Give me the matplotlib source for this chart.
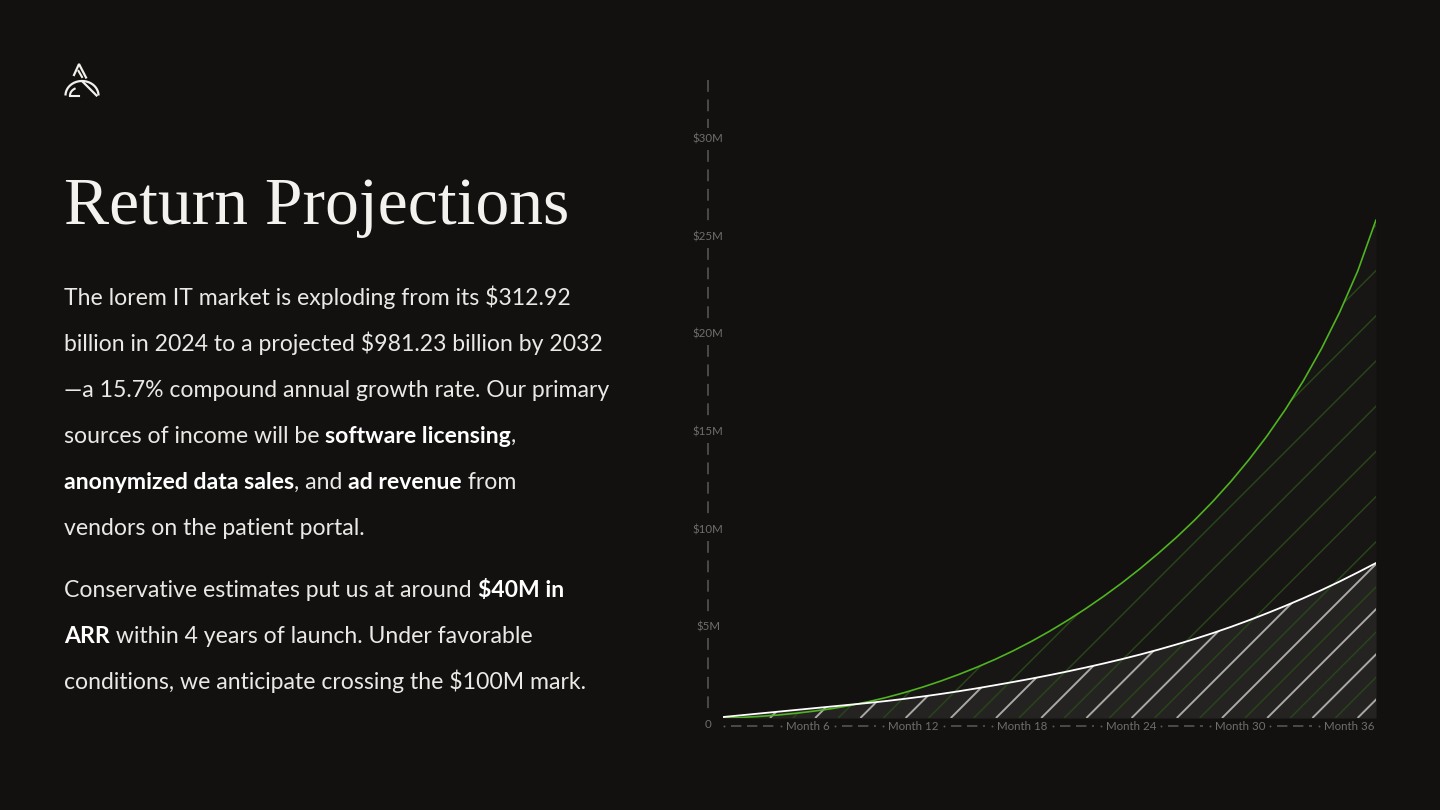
import matplotlib
matplotlib.use('Agg')
import matplotlib.pyplot as plt
import matplotlib.transforms as mtransforms
from matplotlib.collections import LineCollection
import numpy as np

plt.rcParams['lines.scale_dashes'] = False

W, H, DPI = 1440, 810, 100
BG = '#131110'

# ---------------- data ----------------
months = list(range(0, 37))
conservative = [0.05, 0.14, 0.23, 0.32, 0.41, 0.50, 0.59, 0.68, 0.77, 0.87,
                0.98, 1.10, 1.23, 1.37, 1.52, 1.68, 1.845, 2.015, 2.195, 2.385,
                2.585, 2.795, 3.015, 3.25, 3.50, 3.765, 4.045, 4.345, 4.665, 5.005,
                5.365, 5.74, 6.135, 6.55, 6.99, 7.455, 7.935]
favorable = [0.00, 0.03, 0.08, 0.15, 0.24, 0.35, 0.48, 0.64, 0.83, 1.05,
             1.30, 1.58, 1.89, 2.23, 2.60, 3.00, 3.44, 3.92, 4.44, 5.00,
             5.60, 6.24, 6.92, 7.65, 8.43, 9.25, 10.13, 11.08, 12.11, 13.23,
             14.45, 15.79, 17.27, 18.92, 20.78, 22.90, 25.50]
y_ticks = [0, 5, 10, 15, 20, 25, 30]
y_tick_labels = ['0', '$5M', '$10M', '$15M', '$20M', '$25M', '$30M']
x_ticks = [6, 12, 18, 24, 30, 36]
x_tick_labels = ['Month 6', 'Month 12', 'Month 18', 'Month 24', 'Month 30', 'Month 36']

title_text = 'Return Projections'
body_lines = [
    [('The lorem IT market is exploding from its $312.92', False)],
    [('billion in 2024 to a projected $981.23 billion by 2032', False)],
    [('\u2014a 15.7% compound annual growth rate. Our primary', False)],
    [('sources of income will be ', False), ('software licensing', True), (',', False)],
    [('anonymized data sales', True), (', and ', False), ('ad revenue', True), (' from', False)],
    [('vendors on the patient portal.', False)],
    [('Conservative estimates put us at around ', False), ('$40M in', True)],
    [('ARR', True), (' within 4 years of launch. Under favorable', False)],
    [('conditions, we anticipate crossing the $100M mark.', False)],
]
body_baselines = [305, 351, 397, 443, 489, 535, 597, 643, 689]

# ---------------- figure ----------------
fig = plt.figure(figsize=(W / DPI, H / DPI), dpi=DPI, facecolor=BG)
renderer = fig.canvas.get_renderer()

# overlay axes in pixel coordinates (top-left origin) for decoration
ov = fig.add_axes([0, 0, 1, 1])
ov.set_xlim(0, W)
ov.set_ylim(H, 0)
ov.axis('off')
ov.set_zorder(0)

# chart axes
X0, X1, Y0, YTOP = 723, 1376, 718, 80
PXM = (718 - 132) / 30.0
ax = fig.add_axes([X0 / W, (H - Y0) / H, (X1 - X0) / W, (Y0 - YTOP) / H])
ax.set_zorder(1)
ax.patch.set_alpha(0)
ax.axis('off')
ax.set_xlim(0, 36)
ax.set_ylim(0, (Y0 - YTOP) / PXM)
ax.autoscale(False)

gfill = ax.fill_between(months, favorable, 0, color='#171614', lw=0, zorder=1)
wfill = ax.fill_between(months, conservative, 0, color='#242321', lw=0, zorder=2)


def hatch(x_start, spacing, color, lw, clip, z):
    segs = []
    for k in range(-20, 40):
        xb = x_start + spacing * k
        segs.append([(xb, H - Y0), (xb + 800, H - Y0 + 800)])
    lc = LineCollection(segs, colors=color, linewidths=lw,
                        transform=mtransforms.IdentityTransform(), zorder=z)
    ax.add_collection(lc, autolim=False)
    lc.set_clip_path(clip.get_paths()[0], ax.transData)
    return lc


hatch(770 + 23, 45.2, '#284419', 1.1, gfill, 3)
hatch(770, 45.2, '#a9a8a6', 1.4, wfill, 4)

ax.plot(months, favorable, color='#4fb41f', lw=1.2, zorder=5, solid_capstyle='round')
ax.plot(months, conservative, color='#ffffff', lw=1.3, zorder=6, solid_capstyle='round')

# ---------------- axes decoration ----------------
AXC = '#5c5a58'
LBC = '#706e6c'
TICK_FS = 8.3

ylab_px = []
for v, lab in zip(y_ticks, y_tick_labels):
    ypx = H - ax.transData.transform((0, v))[1] + 7
    ylab_px.append(ypx)
    ov.text(708, ypx, lab, ha='center', va='center', fontsize=TICK_FS,
            color=LBC, family='Lato', parse_math=False)

dash_y = (0, (8.5, 5.5))
ys = sorted(ylab_px)
segs = [(YTOP, ys[0] - 11)]
for a, b in zip(ys[:-1], ys[1:]):
    segs.append((a + 11, b - 11))
for a, b in segs:
    ov.plot([708, 708], [a, b], color=AXC, lw=1.1, linestyle=dash_y,
            dash_capstyle='butt')

XAXY = 726
lab_extents = []
for m, lab in zip(x_ticks, x_tick_labels):
    xr = ax.transData.transform((m, 0))[0] - 2
    t = ov.text(xr, XAXY, lab, ha='right', va='center', fontsize=TICK_FS,
                color=LBC, family='Lato')
    bb = t.get_window_extent(renderer)
    lab_extents.append((bb.x0, bb.x1))

prev = 719
for (l, r) in lab_extents:
    ov.plot([prev + 5, l - 5], [XAXY, XAXY], linestyle='none', marker='o',
            ms=1.4, color=AXC, mew=0)
    ov.plot([prev + 12, l - 12], [XAXY, XAXY], color=AXC, lw=1.1,
            linestyle=(0, (7.5, 4.0)), dash_capstyle='butt')
    prev = r

# ---------------- logo ----------------
LC = '#f2f0ec'
th = np.linspace(np.pi, 2 * np.pi, 60)
ov.plot(82 + 16.5 * np.cos(th), 95.5 + 14.5 * np.sin(th), color=LC, lw=1.6,
        solid_capstyle='butt')
th2 = np.linspace(np.pi, 1.32 * np.pi, 30)
ov.plot(80 + 10 * np.cos(th2), 95.5 + 8 * np.sin(th2), color=LC, lw=1.5)
ov.plot([70, 79], [95.5, 95.5], color=LC, lw=1.5)
ov.plot([83, 96.5], [82, 95.5], color=LC, lw=1.6)
ov.plot([74, 79, 86], [75, 64, 77.5], color=LC, lw=1.6, solid_joinstyle='miter')
ov.plot([78.5, 82], [71, 77], color=LC, lw=1.5)

# ---------------- title ----------------
tkw = dict(family='Liberation Serif', color='#f4f2ee')
tt = ov.text(64, 224, title_text, fontsize=50, va='baseline', ha='left', **tkw)
tw = tt.get_window_extent(renderer).width
tt.set_fontsize(50 * 506.0 / tw)

# ---------------- body ----------------
BODY_FAM = ['Lato', 'DejaVu Sans']


def seg_width(s, size, weight):
    t1 = fig.text(0, 0, '|' + s + '|', fontsize=size, fontweight=weight,
                  family=BODY_FAM, parse_math=False)
    t2 = fig.text(0, 0, '||', fontsize=size, fontweight=weight,
                  family=BODY_FAM, parse_math=False)
    w = t1.get_window_extent(renderer).width - t2.get_window_extent(renderer).width
    t1.remove()
    t2.remove()
    return w


bs = 15.0
w0 = seg_width(body_lines[0][0][0], bs, 'normal')
bs = bs * 506.0 / w0

for line, yb in zip(body_lines, body_baselines):
    x = 64
    for s, bold in line:
        wt = 'bold' if bold else 'normal'
        ov.text(x, yb, s, fontsize=bs, fontweight=wt, family=BODY_FAM,
                color='#ffffff' if bold else '#ebe9e5', va='baseline',
                ha='left', parse_math=False)
        x += seg_width(s, bs, wt)

fig.savefig('out.png', dpi=DPI, facecolor=BG)
